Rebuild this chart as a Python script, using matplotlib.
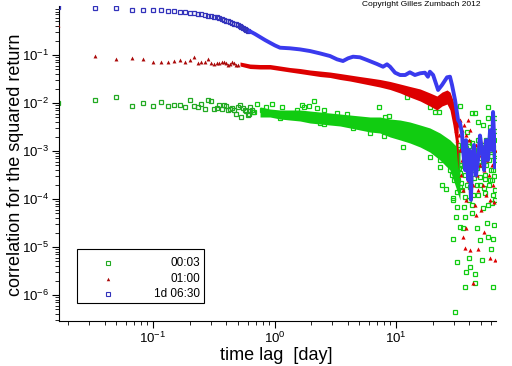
import numpy as np
import matplotlib
matplotlib.use("Agg")
from matplotlib import pyplot as plt
from matplotlib.patches import Rectangle
from matplotlib.ticker import LogLocator, NullFormatter

plt.rcParams['font.family'] = ['Liberation Sans', 'DejaVu Sans']
plt.rcParams['mathtext.fontset'] = 'custom'
plt.rcParams['mathtext.rm'] = 'Liberation Sans'

# lag steps of 1/60 day (sparse part at short lags)
steps = [1, 2, 3, 4, 5, 6, 7, 8, 9, 10, 11, 12, 13, 14, 15, 16, 17, 18, 19, 20,
         21, 22, 23, 24, 25, 26, 27, 28, 29, 30, 31, 32, 33, 34, 35, 36, 37, 38, 39, 40]
green_sparse = [0.0099, 0.0116, 0.0132, 0.0086, 0.0099, 0.0086, 0.0103, 0.0086, 0.0089, 0.0089,
                0.0082, 0.0114, 0.0086, 0.0082, 0.0094, 0.0075, 0.0114, 0.0108, 0.0075, 0.0078,
                0.0089, 0.0075, 0.0089, 0.0086, 0.0070, 0.0075, 0.0078, 0.0072, 0.0060, 0.0082,
                0.0089, 0.0050, 0.0078, 0.0070, 0.0068, 0.0056, 0.0058, 0.0082, 0.0070, 0.0064]
red_sparse = [0.422, 0.095, 0.081, 0.088, 0.081, 0.072, 0.072, 0.072, 0.076, 0.080,
              0.072, 0.080, 0.092, 0.069, 0.070, 0.072, 0.081, 0.069, 0.064, 0.069,
              0.069, 0.072, 0.070, 0.067, 0.062, 0.064, 0.072, 0.067, 0.062, 0.062]
blue_sparse = [1.0, 0.953, 0.953, 0.866, 0.866, 0.853, 0.853, 0.814, 0.814, 0.776,
               0.776, 0.739, 0.739, 0.705, 0.705, 0.672, 0.649, 0.649, 0.610, 0.610,
               0.581, 0.554, 0.536, 0.518, 0.504, 0.487, 0.457, 0.442, 0.436, 0.422,
               0.397, 0.378, 0.365, 0.353, 0.332, 0.321]

# blue (1d 06:30) dense part, lag in days
blue_lag = [0.628, 0.691, 0.760, 0.836, 0.918, 1.01, 1.11, 1.34, 1.62, 1.96, 2.37, 2.86,
            3.27, 3.66, 4.03, 4.43, 5.05, 5.77, 6.98, 7.82, 8.43, 8.93, 9.82, 10.8, 11.9,
            13.0, 14.3, 15.8, 17.3, 18.3, 19.0, 20.2, 22.2, 23.9, 26.3, 27.8, 28.9, 30.6,
            32.4, 33.6, 34.9, 35.6, 37.0, 37.7, 39.2, 40.0, 41.4, 42.2, 43.8, 45.5, 47.3,
            49.1, 51.0, 53.0, 55.0, 57.2, 59.4, 61.7, 62.9, 64.1, 65.3]
blue_val = [0.312, 0.274, 0.237, 0.205, 0.180, 0.158, 0.142, 0.138, 0.131, 0.121, 0.108, 0.0953,
            0.0813, 0.075, 0.0853, 0.0922, 0.0896, 0.0787, 0.0649, 0.057, 0.064, 0.057, 0.0428,
            0.0383, 0.0383, 0.0436, 0.0383, 0.0416, 0.0428, 0.0353, 0.0449, 0.0383, 0.0187,
            0.0237, 0.0343, 0.0353, 0.0237, 0.01155, 0.00442, 0.00383, 0.00237, 0.00105,
            4.0e-4, 0.00168, 2.5e-4, 0.00105, 9.6e-5, 6.5e-4, 0.00133, 3.1e-4, 6.5e-4,
            0.0021, 0.00105, 4.0e-4, 0.00168, 6.5e-4, 0.0027, 0.00105, 0.0065, 0.0021, 4.6e-4]

# red (01:00) dense band: upper and lower envelope
red_band_lag = [0.52, 0.628, 0.760, 0.918, 1.11, 1.34, 1.62, 1.96, 2.37, 2.86, 3.46, 4.18,
                5.05, 6.11, 7.38, 8.93, 10.8, 13.0, 15.8, 19.0, 21.7, 23.9, 26.3, 27.8,
                29.4, 31.2, 32.4]
red_band_hi = [0.0715, 0.0649, 0.0634, 0.0634, 0.059, 0.0549, 0.0523, 0.0487, 0.0464, 0.0442,
               0.0412, 0.0383, 0.0356, 0.0332, 0.0309, 0.0281, 0.0249, 0.0221, 0.0196, 0.0162,
               0.0140, 0.0169, 0.0187, 0.0169, 0.01155, 0.00715, 0.00442]
red_band_lo = [0.059, 0.0523, 0.0511, 0.0511, 0.0475, 0.0442, 0.0412, 0.0383, 0.0356, 0.0340,
               0.0309, 0.0287, 0.0261, 0.0237, 0.0215, 0.0191, 0.0162, 0.0133, 0.0110, 0.00866,
               0.00715, 0.00866, 0.00953, 0.00715, 0.00348, 0.00133, 0.0004]
red_tail_lag = [33.6, 34.9, 34.3, 35.6, 36.3, 37.0, 37.7, 38.5, 39.2, 40.0, 40.6, 41.4, 42.2,
                43.0, 43.8, 44.7, 45.5, 46.4, 47.3, 48.2, 49.1, 50.1, 51.0, 52.0, 53.0, 54.0,
                55.0, 56.1, 57.2, 58.3, 59.4, 60.5, 61.7, 62.9, 64.1, 65.3, 35.4, 37.0, 40.6,
                47.3, 43.0, 59.4, 65.3, 37.7, 45.5, 53.0, 31.2, 31.9, 32.4, 33.0, 33.6, 34.9,
                36.3, 37.7, 39.2, 40.6]
red_tail_val = [0.00105, 6.5e-4, 3.2e-4, 1.54e-4, 0.00133, 5.1e-4, 9.5e-5, 8.3e-4, 2.5e-4,
                0.0017, 4.0e-4, 1.21e-4, 0.00105, 1.96e-4, 6.5e-4, 7.5e-5, 0.00133, 3.2e-4,
                1.54e-4, 8.3e-4, 5.1e-4, 5.9e-5, 0.00105, 1.96e-4, 4.0e-4, 0.0017, 1.21e-4,
                6.5e-4, 0.00105, 3.2e-4, 9.5e-5, 0.00133, 5.1e-4, 1.96e-4, 8.7e-5, 0.00105,
                1.6e-5, 9.5e-6, 8.7e-6, 9.1e-6, 1.8e-6, 5.9e-6, 5.4e-6, 2.5e-5, 4.6e-5, 2.05e-5,
                0.0027, 0.0017, 0.00348, 0.00216, 0.00442, 0.0027, 0.00348, 0.00216, 0.00442,
                0.0027]

# green (00:03) dense band and scattered points
green_band_lag = [0.760, 0.918, 1.11, 1.34, 1.62, 1.96, 2.37, 2.86, 3.46, 4.18, 5.05, 6.11,
                  7.38, 8.93, 10.8, 13.0, 15.8, 19.0, 23.0, 27.8, 30.6, 33.6]
green_band_hi = [0.00826, 0.0075, 0.00715, 0.00715, 0.00715, 0.00681, 0.00649, 0.00619, 0.0059,
                 0.00562, 0.00536, 0.00511, 0.00511, 0.00464, 0.00442, 0.00402, 0.00348,
                 0.00302, 0.00237, 0.0017, 0.00133, 0.00105]
green_band_lo = [0.00511, 0.00511, 0.00464, 0.00442, 0.00422, 0.00383, 0.00365, 0.00348,
                 0.00332, 0.00302, 0.00274, 0.00249, 0.00237, 0.00196, 0.0017, 0.00147,
                 0.00121, 0.00095, 0.00065, 0.0004, 0.000196, 0.000095]
green_pts_lag = [0.678, 0.72, 0.79, 0.85, 0.95, 1.16, 1.11, 1.54, 1.69, 1.76, 1.93, 2.13, 2.22,
                 2.37, 2.57, 2.57, 3.25, 3.93, 4.40, 6.11, 7.24, 8.01, 8.1, 8.76, 9.04, 11.5,
                 12.2, 19.1, 20.9, 22.6, 19.0, 23.0, 33.6, 42.0, 44.7, 57.5, 57.5, 65.3, 47.6,
                 52.3, 59.4, 65.3, 38.6, 39.5,
                 23.8, 25.6, 29.3, 31.2, 29.7, 32.0, 30.8, 37.0, 40.6, 44.7, 44.7, 37.5, 39.5,
                 50.8, 60.2, 62.5, 64.1, 57.5, 63.2, 49.1, 46.1, 56.4, 35.4, 33.4, 37.0, 42.0,
                 52.3, 61.3, 65.3, 39.5, 36.0, 31.6, 54.0, 43.3, 33.6, 29.7, 65.3, 59.4, 49.1,
                 40.6, 33.6, 27.8, 63.2, 65.3, 55.7, 46.1, 36.0, 31.6, 26.1, 23.0, 63.2, 52.3,
                 42.0, 32.4, 34.9, 37.7, 40.6, 43.8, 47.3, 51.0, 55.0, 59.4, 64.1, 33.6, 37.0,
                 39.2, 43.0, 46.4, 50.1, 54.0, 58.3, 61.7, 34.9, 38.5, 42.2, 47.3, 53.0, 57.2,
                 62.9, 32.4, 30.6, 28.9, 26.8,
                 24.5, 25.0, 27.0, 28.0, 29.0, 30.0, 31.0, 32.0, 33.0, 34.0, 35.0, 36.0, 36.8,
                 38.0, 39.0, 40.0, 41.0, 42.5, 44.0, 45.0, 46.0, 48.0, 49.5, 50.5, 52.0, 53.5,
                 55.5, 56.5, 58.0, 60.0, 61.0, 62.0, 63.5, 64.8]
green_pts_val = [0.0064, 0.00953, 0.00715, 0.00826, 0.0095, 0.00813, 0.0048, 0.00715, 0.00909,
                 0.00813, 0.00866, 0.0110, 0.00776, 0.00377, 0.00715, 0.0036, 0.0061, 0.0059,
                 0.00297, 0.00234, 0.0083, 0.00208, 0.00518, 0.00543, 0.00377, 0.00119, 0.0131,
                 0.0081, 0.00659, 0.00659, 7.6e-4, 4.7e-4, 0.00866, 0.00634, 0.00634, 0.00813,
                 0.0048, 0.0048, 0.00407, 0.00348, 0.00321, 0.00265, 0.00252, 0.00156,
                 2.0e-4, 1.59e-4, 9.5e-5, 4.3e-5, 1.45e-5, 4.8e-6, 4.5e-7, 1.49e-6, 3.9e-6,
                 2.8e-6, 1.75e-6, 3.05e-6, 5.8e-6, 5.4e-6, 9.1e-6, 1.45e-5, 2.9e-5, 1.64e-5,
                 1.49e-6, 1.4e-5, 2.45e-5, 3.1e-5, 2.45e-5, 2.65e-5, 4.2e-5, 5.0e-5, 6.4e-5,
                 8.1e-5, 9.5e-5, 9.5e-5, 6.9e-5, 6.9e-5, 1.31e-4, 1.21e-4, 1.8e-4, 1.03e-4,
                 1.54e-4, 2.5e-4, 2.9e-4, 2.5e-4, 3.43e-4, 4.0e-4, 4.0e-4, 6.5e-4, 8.95e-4,
                 7.6e-4, 6.5e-4, 8.95e-4, 0.00105, 6.5e-4, 0.00123, 0.00133, 0.00145, 0.00133,
                 0.00105, 0.00115, 8.3e-4, 0.00105, 0.0017, 9.7e-4, 0.0017, 0.00105, 0.0017,
                 5.1e-4, 3.2e-4, 5.1e-4, 4.0e-4, 1.96e-4, 5.1e-4, 3.2e-4, 6.5e-4, 2.5e-4,
                 1.54e-4, 1.96e-4, 7.5e-5, 1.21e-4, 1.7e-4, 7.5e-5, 1.21e-4, 2.5e-4, 5.1e-4,
                 3.2e-4, 6.5e-4,
                 1.2e-3, 8.0e-4, 5.5e-4, 1.0e-3, 7.0e-4, 2.5e-4, 6.0e-4, 1.4e-4, 4.5e-4, 2.2e-4,
                 1.1e-3, 4.8e-4, 1.1e-4, 7.5e-4, 3.6e-4, 1.3e-3, 1.8e-4, 5.8e-4, 2.8e-4, 1.0e-3,
                 4.5e-4, 6.0e-4, 2.0e-4, 1.2e-3, 7.5e-4, 2.6e-4, 5.0e-4, 1.1e-3, 2.0e-4, 8.0e-4,
                 4.0e-4, 1.4e-3, 3.0e-4, 8.5e-4]

labels = ['00:03', '01:00', '1d 06:30']

c_green, c_green2 = '#22aa22', '#11cc11'
c_red, c_red2 = '#aa0808', '#dd0000'
c_blue, c_blue2 = '#3333bb', '#3a3aee'

sparse_lag = np.array(steps) / 60.0

fig = plt.figure(figsize=(5.12, 3.66), dpi=100)
W, H = 512.0, 366.0
ax = fig.add_axes([59 / W, 1 - 321 / H, (496 - 59) / W, (321 - 6) / H])
ax.set_xscale('log')
ax.set_yscale('log')

# green
ax.fill_between(green_band_lag, green_band_lo, green_band_hi, color=c_green2, lw=0, zorder=1)
ax.plot(sparse_lag[:len(green_sparse)], green_sparse, 's', ms=3, mfc='none', mec=c_green, mew=0.9, zorder=2)
ax.plot(green_pts_lag, green_pts_val, 's', ms=3, mfc='none', mec=c_green2, mew=0.9, zorder=2)

# red
ax.fill_between(red_band_lag, red_band_lo, red_band_hi, color=c_red2, lw=0, zorder=3)
ax.plot(sparse_lag[:len(red_sparse)], red_sparse, '^', ms=2.8, color=c_red, mew=0, zorder=4)
ax.plot(red_tail_lag, red_tail_val, '^', ms=3, color=c_red2, mew=0, zorder=4)

# blue
ax.plot(sparse_lag[:len(blue_sparse)], blue_sparse, 's', ms=3, mfc='none', mec=c_blue, mew=0.9, zorder=5)
ax.plot(blue_lag, blue_val, '-', color=c_blue2, lw=2.8, zorder=5)

ax.set_xlim(0.01684, 66.5)
ax.set_ylim(2.87e-7, 1.05)
ax.set_yticks([1e-6, 1e-5, 1e-4, 1e-3, 1e-2, 1e-1])
ax.yaxis.set_minor_locator(LogLocator(base=10, subs=np.arange(2, 10), numticks=20))
ax.yaxis.set_minor_formatter(NullFormatter())
ax.xaxis.set_minor_formatter(NullFormatter())
ax.spines['top'].set_visible(False)
ax.spines['right'].set_visible(False)
ax.tick_params(which='major', length=5, width=0.8, labelsize=9.5)
ax.tick_params(axis='x', which='major', pad=2)
ax.tick_params(axis='y', which='major', pad=2)
ax.tick_params(which='minor', length=3, width=0.6)

fig.text(276 / W, 1 - 355 / H, 'time lag  [day]', fontsize=13, ha='center', va='center')
fig.text(15.5 / W, 1 - 165 / H, 'correlation for the squared return', fontsize=13,
         rotation=90, ha='center', va='center')

fig.text(480 / W, 1 - 5 / H, 'Copyright Gilles Zumbach 2012', fontsize=6, ha='right', va='center')

# legend box
fig.patches.append(Rectangle((77 / W, 1 - 303 / H), 127 / W, 54 / H, transform=fig.transFigure,
                             fill=False, ec='black', lw=0.8))
rows = [263, 279, 294]
styles = [dict(marker='s', mfc='none', mec=c_green, mew=0.8, ms=2.5),
          dict(marker='^', color=c_red, mew=0, ms=2.5),
          dict(marker='s', mfc='none', mec=c_blue, mew=0.8, ms=2.5)]
for yy, lab, st in zip(rows, labels, styles):
    fig.lines.append(plt.Line2D([108 / W], [1 - yy / H], transform=fig.transFigure, ls='none', **st))
    fig.text(200 / W, 1 - yy / H, lab, fontsize=8.5, ha='right', va='center')

fig.savefig('out.png', dpi=100)
